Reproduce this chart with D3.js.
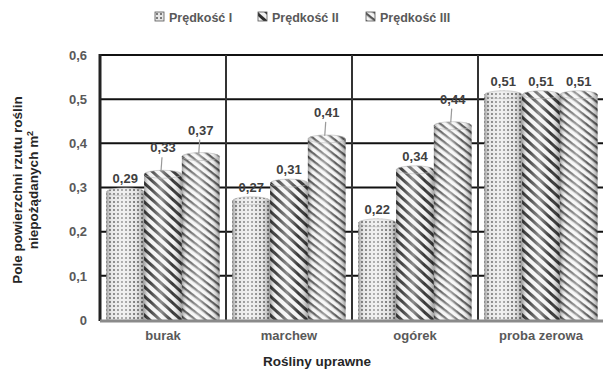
<!DOCTYPE html>
<html><head><meta charset="utf-8">
<script src="https://cdn.jsdelivr.net/npm/d3@7"></script>
<style>body{margin:0;background:#fff}svg{display:block}text{font-family:"Liberation Sans",Arial,sans-serif;font-weight:bold}</style>
</head><body><div id="c"></div>
<script>
const categories = ["burak", "marchew", "ogórek", "proba zerowa"];
const seriesNames = ["Prędkość I", "Prędkość II", "Prędkość III"];
const speedI = [0.29, 0.27, 0.22, 0.51];
const speedII = [0.33, 0.31, 0.34, 0.51];
const speedIII = [0.37, 0.41, 0.44, 0.51];
const yTicks = [0, 0.1, 0.2, 0.3, 0.4, 0.5, 0.6];
// labels drawn with a leader line: [category index, series index]
const leaderLabels = [[0,1],[0,2],[1,2],[2,2]];
const series = [speedI, speedII, speedIII];

const W = 603, H = 369;
const svg = d3.select("#c").append("svg").attr("width", W).attr("height", H);
const defs = svg.append("defs");

// patterns
const p1 = defs.append("pattern").attr("id","p0").attr("patternUnits","userSpaceOnUse").attr("width",4).attr("height",4);
p1.append("rect").attr("width",4).attr("height",4).attr("fill","#e6e6e6");
p1.append("rect").attr("x",1).attr("y",1).attr("width",2).attr("height",2).attr("fill","#7a7a7a");
const p2 = defs.append("pattern").attr("id","p1").attr("patternUnits","userSpaceOnUse").attr("width",7).attr("height",7).attr("patternTransform","rotate(42)");
p2.append("rect").attr("width",7).attr("height",7).attr("fill","#f2f2f2");
p2.append("rect").attr("width",7).attr("height",3).attr("fill","#2e2e2e");
const p3 = defs.append("pattern").attr("id","p2").attr("patternUnits","userSpaceOnUse").attr("width",6).attr("height",6).attr("patternTransform","rotate(38)");
p3.append("rect").attr("width",6).attr("height",6).attr("fill","#f4f4f4");
p3.append("rect").attr("width",6).attr("height",2.3).attr("fill","#555");
// cylinder shading
const g = defs.append("linearGradient").attr("id","shade").attr("x1","0").attr("x2","1").attr("y1","0").attr("y2","0");
[[0,"#000",0.35],[0.15,"#fff",0.1],[0.45,"#fff",0.45],[0.75,"#fff",0.05],[1,"#000",0.35]].forEach(s=>
  g.append("stop").attr("offset",s[0]).attr("stop-color",s[1]).attr("stop-opacity",s[2]));

const x0 = d3.scaleBand().domain(categories).range([100, 604]).paddingInner(0).paddingOuter(0);
const x1 = d3.scaleBand().domain(d3.range(3)).range([0, x0.bandwidth()]).paddingOuter(0.17).paddingInner(0);
const y = d3.scaleLinear().domain([0, 0.6]).range([320, 55]);

// grid lines
svg.append("g").selectAll("line").data(yTicks.slice(1)).join("line")
  .attr("x1",100).attr("x2",604).attr("y1",d=>y(d)).attr("y2",d=>y(d))
  .attr("stroke","#111").attr("stroke-width",2);
svg.append("g").selectAll("line").data(categories.slice(1)).join("line")
  .attr("x1",d=>x0(d)).attr("x2",d=>x0(d)).attr("y1",y(0.6)).attr("y2",y(0))
  .attr("stroke","#333").attr("stroke-width",2);

// y axis
const yAxis = d3.axisLeft(y).tickValues(yTicks).tickSize(0).tickPadding(13)
  .tickFormat(d => d === 0 ? "0" : d3.format(".1f")(d).replace(".", ","));
const ya = svg.append("g").attr("transform","translate(100,0)").call(yAxis);
ya.select(".domain").remove();
ya.selectAll("text").attr("font-size",13).attr("fill","#595959").attr("font-family","Liberation Sans, Arial").attr("font-weight","bold");
svg.append("line").attr("x1",100).attr("x2",100).attr("y1",y(0.6)-1).attr("y2",y(0)+1).attr("stroke","#222").attr("stroke-width",3);

// bars
const groups = svg.append("g").selectAll("g").data(categories).join("g")
  .attr("transform", d => `translate(${x0(d)},0)`);
groups.each(function(cat, ci) {
  const gg = d3.select(this);
  series.forEach((vals, si) => {
    const v = vals[ci];
    const bx = x1(si), bw = x1.bandwidth();
    const top = y(v), ry = 4;
    gg.append("rect").attr("x",bx).attr("y",top).attr("width",bw).attr("height",y(0)-top).attr("fill",`url(#p${si})`);
    gg.append("rect").attr("x",bx).attr("y",top).attr("width",bw).attr("height",y(0)-top).attr("fill","url(#shade)");
    gg.append("ellipse").attr("cx",bx+bw/2).attr("cy",top).attr("rx",bw/2).attr("ry",ry).attr("fill",`url(#p${si})`);
    gg.append("ellipse").attr("cx",bx+bw/2).attr("cy",top).attr("rx",bw/2).attr("ry",ry).attr("fill","url(#shade)").attr("stroke","#bbb").attr("stroke-width",0.6);
    const lead = leaderLabels.some(p => p[0] === ci && p[1] === si);
    const ly = lead ? top - 22 : top - 9;
    if (lead) {
      gg.append("line").attr("x1",bx+bw/2-1).attr("x2",bx+bw/2-2).attr("y1",ly+5).attr("y2",top-3).attr("stroke","#999").attr("stroke-width",1.2);
    }
    gg.append("text").attr("x",bx+bw/2).attr("y",ly).attr("text-anchor","middle")
      .attr("font-size",13).attr("fill","#404040").text(d3.format(".2f")(v).replace(".", ","));
  });
});

// x axis line
svg.append("line").attr("x1",100).attr("x2",604).attr("y1",y(0)+1).attr("y2",y(0)+1).attr("stroke","#8a8a8a").attr("stroke-width",3);
const xa = svg.append("g").attr("transform",`translate(0,${y(0)})`).call(d3.axisBottom(x0).tickSize(0).tickPadding(11));
xa.select(".domain").remove();
xa.selectAll("text").attr("font-size",13).attr("fill","#595959").attr("font-family","Liberation Sans, Arial").attr("font-weight","bold");

// axis titles
svg.append("text").attr("x",317).attr("y",366).attr("text-anchor","middle").attr("font-size",13.5).attr("fill","#262626").text("Rośliny uprawne");
const yt = svg.append("text").attr("transform","translate(22,190) rotate(-90)").attr("text-anchor","middle").attr("font-size",13.5).attr("fill","#262626");
yt.append("tspan").attr("x",0).attr("dy",0).text("Pole powierzchni rzutu roślin");
yt.append("tspan").attr("x",0).attr("dy",16).text("niepożądanych m");
yt.append("tspan").attr("dy",-5).attr("font-size",9).text("2");

// legend
const legX = [155, 258, 366];
const leg = svg.append("g").selectAll("g").data(seriesNames).join("g").attr("transform",(d,i)=>`translate(${legX[i]},12)`);
leg.append("rect").attr("width",9).attr("height",9).attr("fill",(d,i)=>`url(#p${i})`).attr("stroke","#555").attr("stroke-width",0.8);
leg.append("text").attr("x",14).attr("y",9.5).attr("font-size",12.5).attr("fill","#595959").text(d=>d);
</script></body></html>
